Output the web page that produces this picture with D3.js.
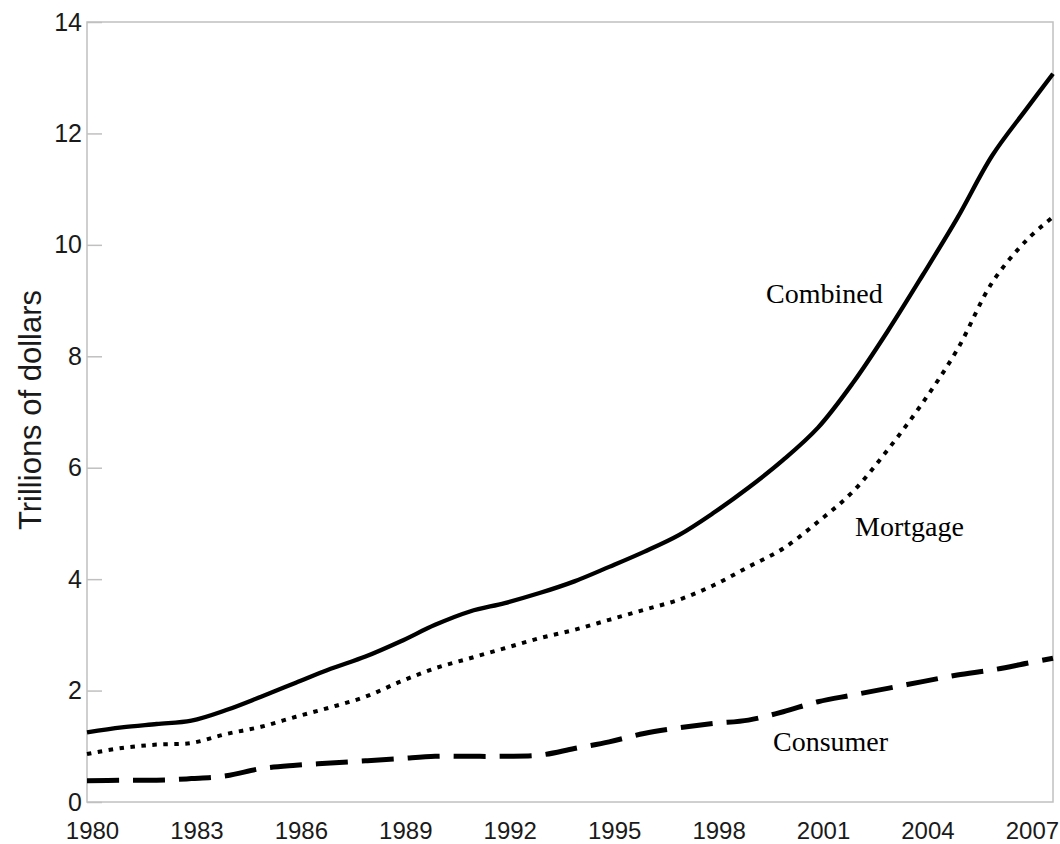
<!DOCTYPE html>
<html>
<head>
<meta charset="utf-8">
<script src="https://cdn.jsdelivr.net/npm/d3@7"></script>
<style>
  body { margin: 0; background: #fff; }
</style>
</head>
<body>
<div id="chart"></div>
<script>
// year positions (annual readings plus the last quarter of 2007)
var years = [1980, 1981, 1982, 1983, 1984, 1985, 1986, 1987, 1988, 1989,
             1990, 1991, 1992, 1993, 1994, 1995, 1996, 1997, 1998, 1999,
             2000, 2001, 2002, 2003, 2004, 2005, 2006, 2007, 2007.75];

// trillions of dollars
var combined = [1.25, 1.34, 1.40, 1.46, 1.65, 1.89, 2.14, 2.39, 2.61, 2.88,
                3.18, 3.42, 3.57, 3.75, 3.96, 4.22, 4.49, 4.79, 5.19, 5.64,
                6.14, 6.72, 7.52, 8.45, 9.45, 10.48, 11.6, 12.45, 13.07];
var mortgage = [0.86, 0.97, 1.03, 1.06, 1.22, 1.35, 1.53, 1.70, 1.89, 2.16,
                2.40, 2.58, 2.76, 2.94, 3.09, 3.27, 3.45, 3.63, 3.89, 4.22,
                4.55, 5.03, 5.57, 6.32, 7.16, 8.12, 9.32, 10.09, 10.5];
var consumer = [0.38, 0.39, 0.39, 0.42, 0.47, 0.60, 0.66, 0.70, 0.74, 0.78,
                0.82, 0.82, 0.82, 0.84, 0.96, 1.08, 1.23, 1.33, 1.41, 1.47,
                1.62, 1.80, 1.92, 2.04, 2.16, 2.28, 2.37, 2.49, 2.58];

var xTicks = [1980, 1983, 1986, 1989, 1992, 1995, 1998, 2001, 2004, 2007];
var yTicks = [0, 2, 4, 6, 8, 10, 12, 14];

function init() {
    var w = 1060, h = 844;
    var left = 87, right = 1053, top = 22, bottom = 802;

    var svg = d3.select("#chart").append("svg")
        .attr("width", w)
        .attr("height", h);

    var x = d3.scaleLinear().domain([1980, 2007.75]).range([left, right]);
    var y = d3.scaleLinear().domain([0, 14]).range([bottom, top]);

    // frame
    svg.append("rect")
        .attr("x", left).attr("y", top)
        .attr("width", right - left).attr("height", bottom - top)
        .attr("fill", "none")
        .attr("stroke", "#c0c0c0")
        .attr("stroke-width", 1.5);

    // y axis, ticks point inward
    var yAxis = svg.append("g")
        .attr("transform", "translate(" + left + ",0)")
        .call(d3.axisLeft(y).tickValues(yTicks).tickSize(-15).tickPadding(5));
    yAxis.select(".domain").remove();
    yAxis.selectAll("line").attr("stroke", "#c0c0c0").attr("stroke-width", 1.5);
    yAxis.selectAll("text")
        .style("font-family", "'Liberation Sans', Arial, sans-serif")
        .style("font-size", "25px")
        .attr("fill", "#1a1a1a");

    // x axis, labels only
    var xAxis = svg.append("g")
        .attr("transform", "translate(0," + bottom + ")")
        .call(d3.axisBottom(x).tickValues(xTicks).tickFormat(d3.format("d")).tickSize(0).tickPadding(20));
    xAxis.select(".domain").remove();
    xAxis.selectAll("text")
        .attr("dx", 5)
        .style("font-family", "'Liberation Sans', Arial, sans-serif")
        .style("font-size", "24px")
        .attr("fill", "#1a1a1a");

    // y title
    svg.append("text")
        .attr("transform", "translate(41,410) rotate(-90)")
        .attr("text-anchor", "middle")
        .style("font-family", "'Liberation Sans', Arial, sans-serif")
        .style("font-size", "31px")
        .attr("fill", "#1a1a1a")
        .text("Trillions of dollars");

    var series = [
        { name: "Combined", values: combined, dash: null, width: 4.3 },
        { name: "Mortgage", values: mortgage, dash: "4.5,6.5", width: 4 },
        { name: "Consumer", values: consumer, dash: "32,14", width: 5 }
    ];

    var line = d3.line()
        .x(function(d, i) { return x(years[i]); })
        .y(function(d) { return y(d); })
        .curve(d3.curveCatmullRom.alpha(0.5));

    svg.selectAll("path.series")
        .data(series)
        .enter()
        .append("path")
        .attr("class", "series")
        .attr("d", function(d) { return line(d.values); })
        .attr("fill", "none")
        .attr("stroke", "#000")
        .attr("stroke-width", function(d) { return d.width; })
        .attr("stroke-dasharray", function(d) { return d.dash; });

    // series labels
    var labels = [
        { text: "Combined", x: 766, y: 303 },
        { text: "Mortgage", x: 855, y: 536 },
        { text: "Consumer", x: 773, y: 751 }
    ];
    svg.selectAll("text.lab")
        .data(labels)
        .enter()
        .append("text")
        .attr("class", "lab")
        .attr("x", function(d) { return d.x; })
        .attr("y", function(d) { return d.y; })
        .style("font-family", "'Liberation Serif', 'Times New Roman', serif")
        .style("font-size", "28px")
        .attr("fill", "#000")
        .text(function(d) { return d.text; });
}
window.onload = init;
</script>
</body>
</html>
